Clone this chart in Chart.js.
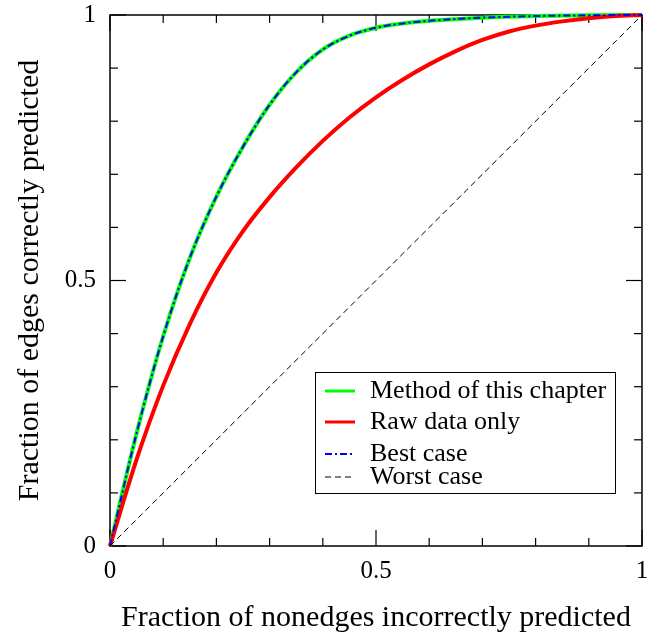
<!DOCTYPE html>
<html><head><meta charset="utf-8">
<script src="https://cdn.jsdelivr.net/npm/chart.js@4.4.0/dist/chart.umd.min.js"></script>
<style>html,body{margin:0;padding:0;background:#fff}canvas{display:block}</style>
</head><body>
<canvas id="c" width="649" height="636"></canvas>
<script>
// ---- data ----
const methodX = [0, 0.05, 0.1, 0.15, 0.2, 0.25, 0.3, 0.35, 0.4, 0.45, 0.5, 0.55, 0.6, 0.7, 0.8, 0.9, 1.0];
const methodY = [0, 0.2125, 0.395, 0.5425, 0.658, 0.752, 0.831, 0.892, 0.935, 0.961, 0.976, 0.984, 0.989, 0.995, 0.998, 0.9995, 1.0];
const rawX = [0, 0.05, 0.1, 0.15, 0.2, 0.25, 0.3, 0.35, 0.4, 0.45, 0.5, 0.55, 0.6, 0.65, 0.7, 0.75, 0.8, 0.85, 0.9, 0.95, 1.0];
const rawY = [0, 0.163, 0.302, 0.418, 0.515, 0.593, 0.657, 0.713, 0.763, 0.807, 0.845, 0.878, 0.907, 0.932, 0.953, 0.969, 0.980, 0.988, 0.994, 0.998, 1.0];
const bestX = [0, 0.05, 0.1, 0.15, 0.2, 0.25, 0.3, 0.35, 0.4, 0.45, 0.5, 0.55, 0.6, 0.7, 0.8, 0.9, 1.0];
const bestY = [0, 0.2125, 0.395, 0.5425, 0.658, 0.752, 0.831, 0.892, 0.935, 0.961, 0.976, 0.984, 0.989, 0.995, 0.998, 0.9995, 1.0];
const worstX = [0, 1];
const worstY = [0, 1];
const seriesLabels = ["Method of this chapter", "Raw data only", "Best case", "Worst case"];
const majorTickValues = [0, 0.5, 1];
const xTickLabels = ["0", "0.5", "1"];
const yTickLabels = ["0", "0.5", "1"];
const minorTickValues = [0, 0.1, 0.2, 0.3, 0.4, 0.5, 0.6, 0.7, 0.8, 0.9, 1];
const xTitle = "Fraction of nonedges incorrectly predicted";
const yTitle = "Fraction of edges correctly predicted";

const FONT = "'Liberation Serif', 'Times New Roman', serif";
const pts = (xs, ys) => xs.map((x, i) => ({x, y: ys[i]}));

const frameTicks = {
  id: 'frameTicks',
  beforeDatasetsDraw(chart) {
    const {ctx, chartArea: a, scales: {x, y}} = chart;
    ctx.save();
    ctx.strokeStyle = '#000';
    ctx.lineWidth = 1.5;
    ctx.strokeRect(a.left, a.top, a.right - a.left, a.bottom - a.top);
    ctx.lineWidth = 1.2;
    const ln = (x1, y1, x2, y2) => { ctx.beginPath(); ctx.moveTo(x1, y1); ctx.lineTo(x2, y2); ctx.stroke(); };
    minorTickValues.forEach(v => {
      const major = majorTickValues.some(m => Math.abs(m - v) < 1e-9);
      const L = major ? 16 : 8;
      const px = x.getPixelForValue(v), py = y.getPixelForValue(v);
      ln(px, a.bottom, px, a.bottom - L);
      ln(px, a.top, px, a.top + L);
      ln(a.left, py, a.left + L, py);
      ln(a.right, py, a.right - L, py);
    });
    ctx.restore();
  }
};

const legendBox = {
  id: 'legendBox',
  afterDatasetsDraw(chart) {
    const {ctx, chartArea: a} = chart;
    const left = a.left + 205, top = a.top + 357, w = 300, h = 121;
    ctx.save();
    ctx.fillStyle = '#fff';
    ctx.fillRect(left, top, w, h);
    ctx.strokeStyle = '#000';
    ctx.lineWidth = 1;
    ctx.strokeRect(left + 0.5, top + 0.5, w, h);
    const lineYs = [19, 50, 82, 105];
    const baseYs = [26, 57, 89, 112];
    const sampleW = [3, 3, 1.8, 1];
    chart.data.datasets.forEach((ds, i) => {
      ctx.strokeStyle = ds.borderColor;
      ctx.lineWidth = sampleW[i];
      ctx.setLineDash(ds.borderDash || []);
      ctx.beginPath();
      ctx.moveTo(left + 10, top + lineYs[i]);
      ctx.lineTo(left + 40, top + lineYs[i]);
      ctx.stroke();
      ctx.setLineDash([]);
      ctx.fillStyle = '#000';
      ctx.font = "26px " + FONT;
      ctx.textBaseline = 'alphabetic';
      ctx.textAlign = 'left';
      ctx.fillText(ds.label, left + 55, top + baseYs[i]);
    });
    ctx.restore();
  }
};

new Chart(document.getElementById('c'), {
  type: 'line',
  data: {
    datasets: [
      {label: seriesLabels[0], data: pts(methodX, methodY), borderColor: '#00ff00', borderWidth: 4, order: 3},
      {label: seriesLabels[1], data: pts(rawX, rawY), borderColor: '#ff0000', borderWidth: 4, order: 2},
      {label: seriesLabels[2], data: pts(bestX, bestY), borderColor: '#0000ff', borderWidth: 2, borderDash: [7, 3, 2, 3], order: 1},
      {label: seriesLabels[3], data: pts(worstX, worstY), borderColor: '#000000', borderWidth: 1, borderDash: [6, 4], order: 0, tension: 0}
    ]
  },
  options: {
    responsive: false,
    devicePixelRatio: 1,
    animation: false,
    layout: {padding: {left: 0, right: 7, top: 15, bottom: 0}},
    elements: {
      point: {radius: 0},
      line: {tension: 0.4, cubicInterpolationMode: 'monotone', fill: false}
    },
    datasets: {line: {clip: 4}},
    plugins: {legend: {display: false}, tooltip: {enabled: false}},
    scales: {
      x: {
        type: 'linear', min: 0, max: 1,
        grid: {display: false, drawTicks: false},
        border: {display: false},
        afterBuildTicks: s => { s.ticks = majorTickValues.map(v => ({value: v})); },
        ticks: {padding: 10, color: '#000', font: {family: FONT, size: 25},
          callback: (v, i) => xTickLabels[i]},
        title: {display: true, text: xTitle, color: '#000', font: {family: FONT, size: 30}, padding: {top: 0, bottom: 0}},
        afterFit: s => { s.height = 90; s.paddingLeft = 0; s.paddingRight = 0; }
      },
      y: {
        type: 'linear', min: 0, max: 1,
        grid: {display: false, drawTicks: false},
        border: {display: false},
        afterBuildTicks: s => { s.ticks = majorTickValues.map(v => ({value: v})); },
        ticks: {padding: 14, color: '#000', font: {family: FONT, size: 25},
          callback: (v, i) => yTickLabels[i]},
        title: {display: true, text: yTitle, color: '#000', font: {family: FONT, size: 30}, padding: {top: 12, bottom: 0}},
        afterFit: s => { s.width = 110; s.paddingTop = 0; s.paddingBottom = 0; }
      }
    }
  },
  plugins: [frameTicks, legendBox]
});
</script>
</body></html>
